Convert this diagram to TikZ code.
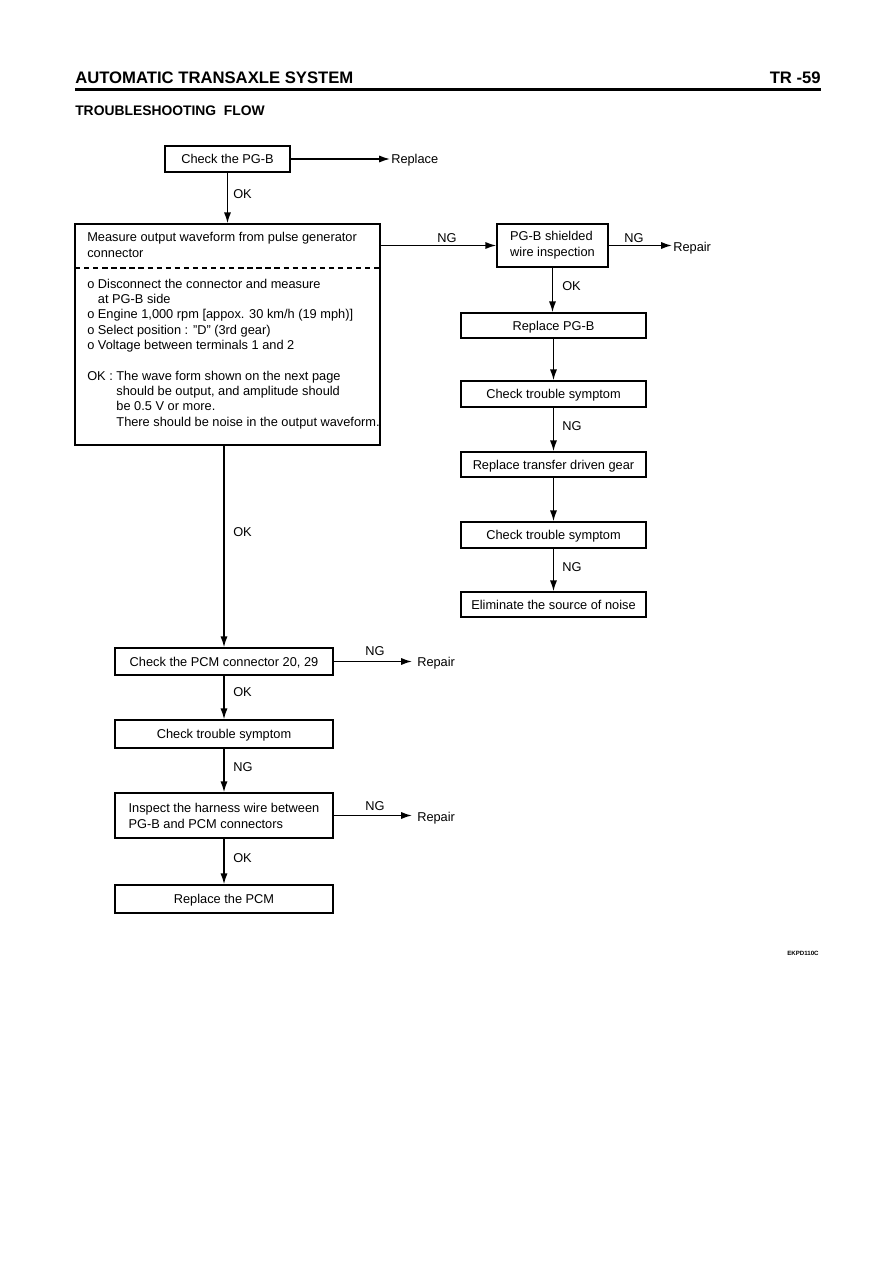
\documentclass[tikz,border=0pt]{standalone}
\usepackage{fontspec}
\setmainfont{Liberation Sans}
\usetikzlibrary{arrows.meta}
\newdimen\px \px=0.75pt
\begin{document}
\begin{tikzpicture}[x=0.75pt,y=-0.75pt,
  box/.style={draw, line width=1.1pt, inner sep=0pt,
    font=\fontsize{9.6}{12}\selectfont, text height=8pt, text depth=1.1pt},
  box2/.style={draw, line width=1.1pt, inner sep=0pt, align=left,
    font=\fontsize{9.6}{12}\selectfont},
  arr/.style={line width=1.1pt, -{Latex[length=8.2pt,width=5.4pt]}},
  lbl/.style={inner sep=0pt, font=\fontsize{9.6}{12}\selectfont},
  ln/.style={inner sep=0pt, anchor=base west, font=\fontsize{9.6}{12}\selectfont}]
\useasboundingbox (0,0) rectangle (893,1263);
% header
\node[inner sep=0pt, anchor=base west, font=\fontsize{12.5}{14}\selectfont\bfseries] (hdr) at (75,84) {AUTOMATIC TRANSAXLE SYSTEM};
\node[inner sep=0pt, anchor=base east, font=\fontsize{12.5}{14}\selectfont\bfseries] (pg) at (821,84) {TR -59};
\coordinate (r1) at (75,89.5);
\coordinate (r2) at (821,89.5);
\draw[line width=2.4pt] (r1) -- (r2);
\node[inner sep=0pt, anchor=base west, font=\fontsize{10.4}{12}\selectfont\bfseries] (ttl) at (75,115) {TROUBLESHOOTING\ \ FLOW};
% boxes
\node[box, minimum width=125\px, minimum height=26\px] (pgb) at (227.5,159) {Check the PG-B};
\node[draw, line width=1.1pt, minimum width=305\px, minimum height=221\px, inner sep=0pt] (big) at (227.5,334.5) {};
\node[box2, minimum width=111\px, minimum height=43\px] (shield) at (552.5,245.5) {PG-B shielded\\wire inspection};
\node[box, minimum width=185\px, minimum height=25\px] (rep) at (553.5,325.5) {Replace PG-B};
\node[box, minimum width=185\px, minimum height=26\px] (cts1) at (553.5,394) {Check trouble symptom};
\node[box, minimum width=185\px, minimum height=25\px] (rtdg) at (553.5,464.5) {Replace transfer driven gear};
\node[box, minimum width=185\px, minimum height=26\px] (cts2) at (553.5,535) {Check trouble symptom};
\node[box, minimum width=185\px, minimum height=25\px] (elim) at (553.5,604.5) {Eliminate the source of noise};
\node[box, minimum width=218\px, minimum height=27\px] (pcm) at (224,661.5) {Check the PCM connector 20, 29};
\node[box, minimum width=218\px, minimum height=28\px] (cts3) at (224,734) {Check trouble symptom};
\node[box2, minimum width=218\px, minimum height=45\px] (harn) at (224,815.5) {Inspect the harness wire between\\PG-B and PCM connectors};
\node[box, minimum width=218\px, minimum height=28\px] (rpcm) at (224,899) {Replace the PCM};
% big box contents
\node[ln] (b1) at (87,241) {Measure output waveform from pulse generator};
\node[ln] (b2) at (87,257) {connector};
\coordinate (d1) at (75,268);
\coordinate (d2) at (380,268);
\draw[line width=1pt, dash pattern=on 4pt off 2.8pt] (d1) -- (d2);
\node[ln] (b3) at (87,288) {o Disconnect the connector and measure};
\node[ln] (b4) at (87,303) {\phantom{o }at PG-B side};
\node[ln] (b5) at (87,318) {o Engine 1,000 rpm [appox. 30 km/h (19 mph)]};
\node[ln] (b6) at (87,334) {o Select position : \symbol{34}D\symbol{34} (3rd gear)};
\node[ln] (b7) at (87,349) {o Voltage between terminals 1 and 2};
\node[ln] (b8) at (87,380) {OK : The wave form shown on the next page};
\node[ln] (b9) at (87,395) {\phantom{OK : }should be output, and amplitude should};
\node[ln] (b10) at (87,410) {\phantom{OK : }be 0.5 V or more.};
\node[ln] (b11) at (87,426) {\phantom{OK : }There should be noise in the output waveform.};
% free ends
\coordinate (e1) at (390,159);
\coordinate (e2) at (672,245.5);
\coordinate (e3) at (412,661.5);
\coordinate (e4) at (412,815.5);
\node[lbl, anchor=west] (rp1) at (391,160) {Replace};
\node[lbl, anchor=west] (rp2) at (673,248) {Repair};
\node[lbl, anchor=west] (rp3) at (417,663) {Repair};
\node[lbl, anchor=west] (rp4) at (417,818) {Repair};
% arrows
\draw[arr] (pgb.east) -- (e1);
\draw[arr] (pgb.south) -- (big.north);
\draw[arr] (big.east|-shield.west) -- (shield.west);
\draw[arr] (shield.east) -- (e2);
\draw[arr] (shield.south) -- (shield.south|-rep.north);
\draw[arr] (rep.south) -- (cts1.north);
\draw[arr] (cts1.south) -- (rtdg.north);
\draw[arr] (rtdg.south) -- (cts2.north);
\draw[arr] (cts2.south) -- (elim.north);
\draw[arr] (pcm.north|-big.south) -- (pcm.north);
\draw[arr] (pcm.east) -- (e3);
\draw[arr] (pcm.south) -- (cts3.north);
\draw[arr] (cts3.south) -- (harn.north);
\draw[arr] (harn.east) -- (e4);
\draw[arr] (harn.south) -- (rpcm.north);
% labels
\node[lbl, anchor=west] (l1) at (233,194) {OK};
\node[lbl] (l2) at (447,238) {NG};
\node[lbl] (l3) at (634,238) {NG};
\node[lbl, anchor=west] (l4) at (562,286) {OK};
\node[lbl, anchor=west] (l5) at (562,426) {NG};
\node[lbl, anchor=west] (l6) at (562,567) {NG};
\node[lbl, anchor=west] (l7) at (233,532) {OK};
\node[lbl] (l8) at (375,651) {NG};
\node[lbl, anchor=west] (l9) at (233,692) {OK};
\node[lbl, anchor=west] (l10) at (233,767) {NG};
\node[lbl] (l11) at (375,806) {NG};
\node[lbl, anchor=west] (l12) at (233,858) {OK};
\node[inner sep=0pt, anchor=base west, font=\fontsize{4.6}{6}\selectfont\bfseries] (code) at (787,955) {EKPD110C};
\end{tikzpicture}
\end{document}
